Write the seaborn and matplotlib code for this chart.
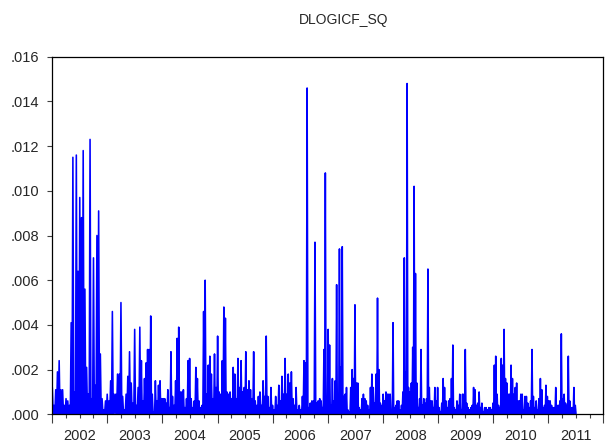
import numpy as np
import pandas as pd
import matplotlib
matplotlib.use("Agg")
import matplotlib.pyplot as plt
import matplotlib.dates as mdates
from matplotlib.ticker import FuncFormatter, MultipleLocator, NullFormatter
import seaborn as sns

# ---- data (peak values, units of 1e-4) ----
SEG_BOUNDS = ["2002-01-01", "2003-08-04", "2005-03-24", "2006-11-08",
              "2008-06-28", "2010-02-14", "2011-07-08"]

peaks_2002_2003 = [12, 4, 11, 19, 24, 11, 11, 4, 7, 6, 4, 41, 115, 10, 116, 64, 97, 88,
                   118, 56, 21, 9, 123, 7, 70, 13, 80, 91, 27, 7, 2, 6, 9, 6, 15, 46, 9,
                   9, 18, 18, 50, 8, 2, 9, 17, 28, 14, 5, 38, 4, 12]
peaks_2003_2005 = [39, 24, 6, 16, 23, 29, 29, 44, 9, 1, 15, 6, 13, 15, 7, 7, 7, 5, 11, 3,
                   28, 8, 4, 15, 34, 39, 10, 10, 11, 3, 7, 24, 25, 7, 3, 6, 21, 16, 6, 3,
                   4, 46, 60, 9, 22, 26, 18, 7, 27, 12, 35, 10, 9, 24, 48, 43, 10, 9]
peaks_2005_2006 = [10, 7, 21, 18, 7, 25, 12, 24, 10, 12, 28, 11, 15, 11, 7, 28, 6, 4, 8,
                   10, 4, 15, 8, 35, 8, 3, 12, 4, 2, 8, 4, 13, 6, 17, 9, 25, 9, 18, 14,
                   19, 7, 4, 12, 2, 4, 2, 8, 24, 23, 146, 3, 5, 6, 6, 77, 5, 6]
peaks_2006_2008 = [7, 6, 3, 29, 108, 6, 38, 31, 4, 16, 6, 15, 58, 3, 74, 21, 75, 8, 9, 12,
                   2, 1, 12, 20, 16, 49, 14, 14, 3, 2, 7, 9, 7, 6, 4, 2, 12, 18, 12, 5,
                   18, 52, 20, 5, 4, 9, 6, 10, 9, 9, 9, 2, 41, 3, 4, 6, 6, 2, 4, 10, 70,
                   19, 148, 12]
peaks_2008_2010 = [10, 14, 30, 102, 63, 14, 3, 7, 29, 4, 7, 5, 7, 65, 12, 6, 6, 3, 12, 6,
                   12, 3, 1, 5, 16, 12, 6, 3, 6, 7, 16, 31, 3, 2, 6, 4, 9, 2, 9, 9, 29,
                   5, 3, 2, 3, 4, 12, 11, 4, 5, 10, 3, 5, 1, 3, 3, 2, 3, 3, 2, 5, 22, 26,
                   9, 4]
peaks_2010_2011 = [3, 25, 22, 38, 16, 14, 9, 9, 22, 16, 9, 12, 14, 6, 6, 9, 9, 2, 8, 8, 5,
                   3, 6, 29, 8, 3, 6, 2, 7, 16, 11, 3, 4, 13, 8, 6, 6, 4, 3, 3, 12, 4, 4,
                   6, 36, 7, 9, 5, 4, 26, 6, 3, 3, 12, 4]
TROUGH = 0.3  # floor level between spikes (1e-4 units)
SCALE = 1e-4

SEGMENTS = [peaks_2002_2003, peaks_2003_2005, peaks_2005_2006,
            peaks_2006_2008, peaks_2008_2010, peaks_2010_2011]

TITLE = "DLOGICF_SQ"

frames = []
for i, pk in enumerate(SEGMENTS):
    n = len(pk)
    vals = []
    for p in pk:
        vals.extend([p, TROUGH])
    dates = pd.date_range(SEG_BOUNDS[i], SEG_BOUNDS[i + 1], periods=2 * n + 1)[:-1]
    frames.append(pd.DataFrame({"date": dates, "value": np.array(vals) * SCALE}))
df = pd.concat(frames, ignore_index=True)

# ---- plot ----
sns.set_style("white")
plt.rcParams["font.family"] = ["Liberation Sans", "DejaVu Sans"]

W, H = 606, 442
fig = plt.figure(figsize=(W / 100, H / 100), dpi=100)
ax = fig.add_axes([52.3 / W, 1 - 414.3 / H, (603.4 - 52.3) / W, (414.3 - 56.7) / H])

sns.lineplot(data=df, x="date", y="value", color="#0000ff", linewidth=1.15,
             estimator=None, sort=False, ax=ax)

ax.set_xlim(pd.Timestamp("2002-01-01"), pd.Timestamp("2012-01-01"))
ax.set_ylim(0, 0.016)
ax.set_xlabel("")
ax.set_ylabel("")

ax.yaxis.set_major_locator(MultipleLocator(0.002))
ax.yaxis.set_major_formatter(FuncFormatter(lambda v, p: f"{v:.3f}"[1:] if v >= 0 else f"{v:.3f}"))

ax.xaxis.set_major_locator(mdates.YearLocator())
ax.xaxis.set_major_formatter(NullFormatter())
ax.xaxis.set_minor_locator(mdates.MonthLocator(bymonth=[4, 7, 10]))


def minor_fmt(x, pos):
    d = mdates.num2date(x)
    return str(d.year) if d.month == 7 else ""


ax.xaxis.set_minor_formatter(FuncFormatter(minor_fmt))

for s in ax.spines.values():
    s.set_color("black")
    s.set_linewidth(0.9)

ax.tick_params(axis="y", which="major", direction="out", length=3.8, width=0.8,
               color="#404040", pad=5.5, labelsize=10.5, left=True, right=False)
ax.tick_params(axis="x", which="major", direction="out", length=6.5, width=0.8,
               color="#404040", bottom=True, top=False)
ax.tick_params(axis="x", which="minor", direction="out", length=3.2, width=0.8,
               color="#404040", pad=7.5, labelsize=10.5, bottom=True, top=False)

fig.text(344 / W, 1 - 20 / H, TITLE, ha="center", va="center", fontsize=10)

fig.savefig("out.png", dpi=100)
